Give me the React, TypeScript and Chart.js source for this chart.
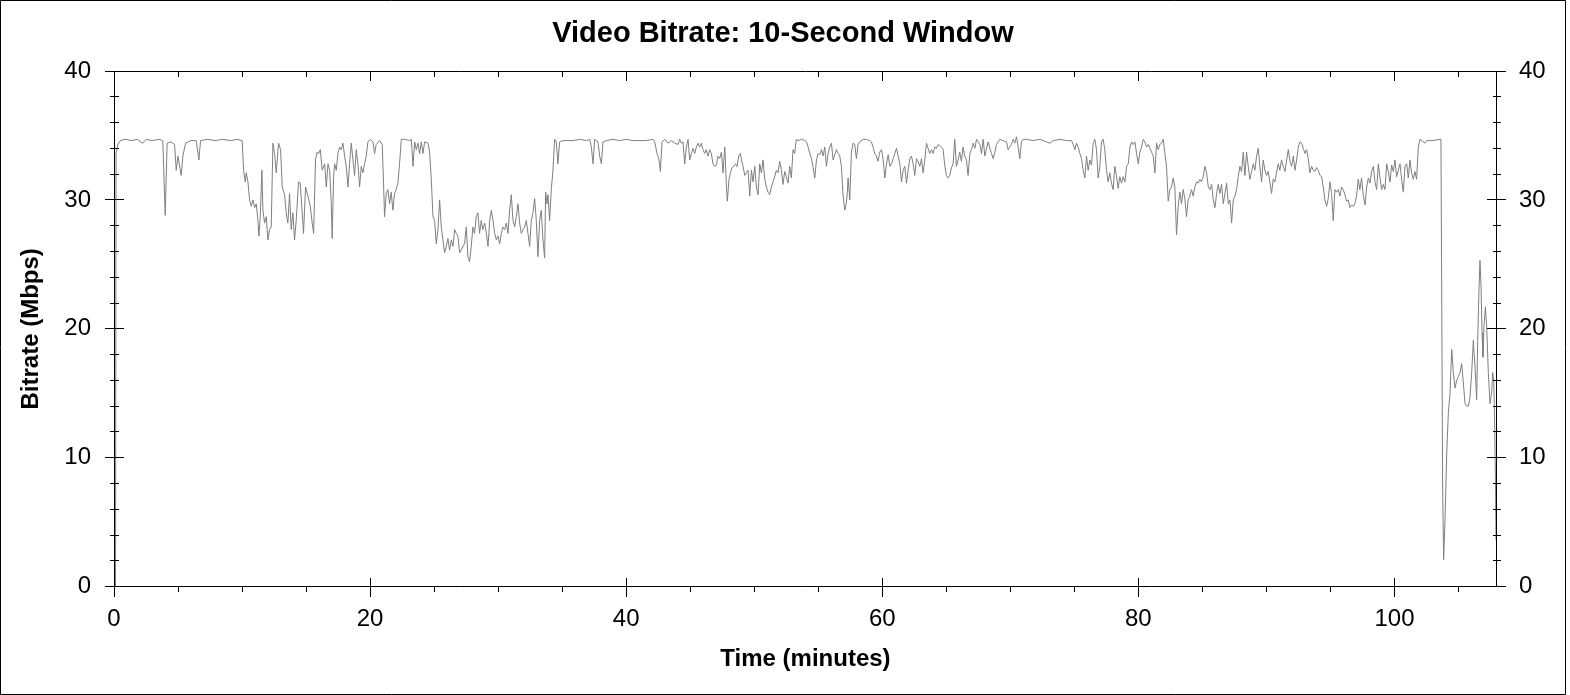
import React, { useEffect, useRef } from "react";
import { Chart, registerables } from "chart.js";

Chart.register(...registerables);

const chartTitle = "Video Bitrate: 10-Second Window";
const xAxisTitle = "Time (minutes)";
const yAxisTitle = "Bitrate (Mbps)";
const xRange = [0, 108];
const yRange = [0, 40];
const xMajorTicks = [0, 20, 40, 60, 80, 100];
const xMinorTicks = [5, 10, 15, 25, 30, 35, 45, 50, 55, 65, 70, 75, 85, 90, 95, 105];
const yMajorTicks = [0, 10, 20, 30, 40];
const yMinorTicks = [2, 4, 6, 8, 12, 14, 16, 18, 22, 24, 26, 28, 32, 34, 36, 38];

// [time (minutes), bitrate (Mbps)]
const bitrateSamples: [number, number][] = [
  [0.12, 0], [0.16, 33.6], [0.3, 34.3], [0.5, 34.6], [0.9, 34.7], [1.4, 34.6], [1.8, 34.7], [2.25, 34.4], [2.5, 34.7], [3.0, 34.6],
  [3.5, 34.7], [3.81, 34.6], [4.0, 28.8], [4.15, 34.4], [4.45, 34.5], [4.73, 34.3], [4.86, 32.3], [4.99, 33.4], [5.25, 31.9], [5.38, 33.4],
  [5.59, 34.4], [6.0, 34.6], [6.42, 34.6], [6.63, 33.1], [6.76, 34.6], [7.3, 34.7], [7.9, 34.6], [8.5, 34.7], [9.1, 34.6], [9.6, 34.7],
  [10.01, 34.6],
  [10.12, 32.3], [10.25, 31.4], [10.33, 32.1], [10.46, 31.4], [10.59, 30.0], [10.72, 29.5], [10.85, 30.0], [10.98, 29.4], [11.11, 29.7], [11.24, 28.4],
  [11.32, 27.2], [11.42, 28.7], [11.55, 32.3], [11.63, 29.2], [11.76, 28.2], [11.89, 28.7], [12.02, 26.9], [12.15, 27.7], [12.28, 27.9], [12.41, 34.4],
  [12.54, 33.6], [12.67, 32.1], [12.85, 34.4], [13.01, 33.9], [13.14, 31.0], [13.32, 30.4], [13.45, 29.0], [13.58, 28.2], [13.71, 30.5], [13.84, 27.7],
  [13.97, 29.0], [14.10, 26.9], [14.23, 28.4], [14.41, 31.4], [14.54, 31.3], [14.70, 29.0], [14.80, 27.4], [14.96, 31.0], [15.14, 30.3], [15.33, 29.5],
  [15.48, 28.2], [15.59, 27.4], [15.74, 33.1], [15.85, 33.7], [16.00, 33.6], [16.11, 33.9], [16.26, 32.3], [16.45, 32.8], [16.58, 31.0], [16.71, 32.8],
  [16.84, 32.3], [16.97, 29.7], [17.04, 27.0], [17.15, 31.8], [17.23, 32.8], [17.36, 32.3], [17.49, 33.6], [17.62, 34.1], [17.75, 33.9], [17.88, 34.4],
  [18.01, 33.4], [18.14, 32.6], [18.27, 31.0], [18.40, 32.8], [18.53, 34.4], [18.66, 33.1], [18.79, 31.9], [18.92, 33.9], [19.05, 32.8], [19.18, 31.0],
  [19.31, 32.6], [19.44, 32.1], [19.57, 32.8], [19.70, 33.4], [19.83, 34.5], [20.01, 34.7], [20.22, 34.5], [20.35, 33.6], [20.48, 34.3], [20.74, 34.6],
  [20.95, 34.3], [21.05, 31.3], [21.13, 28.7], [21.26, 30.5], [21.39, 30.8], [21.52, 29.7], [21.65, 30.6], [21.78, 29.2], [21.91, 30.5], [22.04, 30.8],
  [22.17, 31.3], [22.30, 32.8], [22.44, 34.7], [22.70, 34.7], [23.09, 34.6], [23.22, 34.7], [23.35, 32.6], [23.48, 34.5], [23.61, 33.9], [23.74, 34.4],
  [23.87, 33.6], [24.00, 34.5], [24.13, 33.6], [24.26, 34.5], [24.52, 34.4], [24.65, 33.7], [24.78, 31.6], [24.91, 28.7], [25.04, 28.4], [25.17, 26.6],
  [25.30, 27.7], [25.43, 30.0], [25.56, 27.9], [25.69, 26.9], [25.82, 25.9], [25.95, 26.4], [26.08, 27.0],
  [26.21, 26.1], [26.34, 26.9], [26.47, 26.4], [26.60, 27.7], [26.73, 27.4], [26.86, 27.2], [26.99, 25.9], [27.12, 26.1], [27.25, 26.4], [27.38, 26.6],
  [27.51, 27.9], [27.64, 25.6], [27.77, 25.2], [27.90, 26.4], [28.03, 27.9], [28.16, 27.4], [28.29, 28.7], [28.42, 29.0], [28.55, 27.4], [28.68, 28.4],
  [28.81, 27.7], [28.95, 28.2], [29.08, 27.4], [29.21, 26.4], [29.34, 28.4], [29.47, 29.2], [29.60, 28.4], [29.73, 27.4], [29.86, 26.9], [29.99, 27.2],
  [30.12, 26.6], [30.25, 27.4], [30.38, 27.9], [30.51, 27.7], [30.64, 28.2], [30.77, 27.4], [30.90, 29.2], [31.03, 30.4], [31.16, 28.4], [31.29, 27.9],
  [31.42, 28.7], [31.55, 29.7], [31.68, 28.2], [31.81, 27.4], [31.94, 27.7], [32.07, 27.9], [32.20, 28.4], [32.33, 27.4], [32.46, 26.4], [32.59, 28.4],
  [32.72, 29.0], [32.85, 30.1], [32.98, 28.4], [33.11, 25.6], [33.24, 28.4], [33.37, 29.2], [33.50, 26.9], [33.63, 25.5], [33.71, 30.6], [33.81, 29.7],
  [33.89, 30.4], [34.02, 28.4], [34.15, 30.8], [34.28, 32.3], [34.41, 34.7], [34.54, 34.5], [34.67, 32.8], [34.80, 34.5], [35.06, 34.6], [35.33, 34.6],
  [35.85, 34.6], [36.37, 34.7], [36.89, 34.6], [37.15, 34.7], [37.28, 34.1], [37.41, 32.8], [37.54, 34.7], [37.80, 34.5], [37.93, 33.4], [38.06, 32.8],
  [38.19, 34.5], [38.45, 34.6], [38.97, 34.7], [39.49, 34.6], [40.01, 34.7], [40.53, 34.6], [41.05, 34.6], [41.58, 34.6], [42.10, 34.7], [42.23, 34.5],
  [42.41, 33.6], [42.57, 33.1], [42.67, 32.2], [42.80, 34.5], [43.01, 34.7], [43.27, 34.4], [43.53, 34.6], [43.79, 34.4], [44.05, 34.3], [44.18, 34.7],
  [44.31, 34.4], [44.44, 34.5], [44.57, 32.8], [44.70, 34.1], [44.83, 34.7], [44.96, 33.1], [45.09, 33.6], [45.22, 34.0], [45.35, 33.6], [45.48, 34.1],
  [45.61, 34.4], [45.74, 34.1], [45.87, 34.4], [46.00, 33.9], [46.13, 33.6], [46.26, 33.9], [46.39, 33.4], [46.52, 33.9], [46.65, 33.6], [46.78, 32.8],
  [46.91, 32.6], [47.04, 32.7], [47.17, 33.4], [47.30, 33.2], [47.44, 33.7], [47.56, 32.1], [47.70, 34.1], [47.83, 31.0], [47.90, 29.9], [48.03, 31.6],
  [48.14, 32.1], [48.27, 32.5], [48.40, 32.6], [48.53, 32.8], [48.66, 32.6], [48.79, 33.4], [48.92, 33.6], [49.00, 33.1], [49.13, 32.6], [49.26, 31.9],
  [49.39, 32.1], [49.52, 32.3], [49.65, 30.3], [49.78, 32.3], [49.91, 31.4], [50.04, 32.6], [50.17, 31.0], [50.30, 30.4],
  [50.43, 32.8], [50.56, 32.1], [50.69, 33.1], [50.82, 31.6], [50.95, 31.0], [51.08, 30.6], [51.21, 30.4], [51.34, 31.0], [51.47, 31.4], [51.60, 31.8],
  [51.73, 32.3], [51.86, 32.1], [51.99, 33.0], [52.12, 32.3], [52.25, 31.2], [52.38, 32.2], [52.51, 31.8], [52.64, 31.3], [52.77, 32.6], [52.90, 31.7],
  [53.03, 33.9], [53.16, 33.6], [53.29, 34.7], [53.42, 34.6], [53.68, 34.7], [53.95, 34.6], [54.08, 34.5], [54.21, 34.1], [54.34, 33.6], [54.47, 33.2],
  [54.60, 32.5], [54.73, 31.7], [54.86, 33.1], [54.99, 33.6], [55.12, 33.5], [55.25, 33.9], [55.38, 33.4], [55.51, 34.1], [55.64, 32.6], [55.77, 33.6],
  [55.90, 34.1], [56.03, 34.4], [56.16, 33.1], [56.29, 33.5], [56.42, 33.9], [56.55, 33.6], [56.68, 33.4], [56.81, 32.6], [56.94, 30.3], [57.07, 29.2],
  [57.15, 29.5], [57.25, 30.3], [57.33, 31.7], [57.46, 30.0], [57.59, 33.7], [57.72, 34.4], [57.85, 34.3], [57.98, 33.2], [58.11, 34.3], [58.24, 34.5],
  [58.50, 34.7], [58.76, 34.7], [59.02, 34.6], [59.15, 34.5], [59.28, 34.1], [59.41, 33.6], [59.54, 33.4], [59.67, 33.0], [59.80, 33.7], [59.94, 33.9],
  [60.07, 33.1], [60.20, 31.7], [60.33, 32.8], [60.46, 33.5], [60.59, 32.6], [60.72, 32.8], [60.85, 33.2], [60.98, 33.6], [61.11, 34.0], [61.24, 33.4],
  [61.37, 32.8], [61.50, 31.4], [61.63, 32.3], [61.76, 32.6], [61.89, 31.3], [62.02, 32.3], [62.15, 33.2], [62.28, 33.4], [62.41, 32.8], [62.54, 31.9],
  [62.67, 33.2], [62.80, 33.0], [62.93, 32.6], [63.06, 33.2], [63.19, 32.1], [63.32, 33.1], [63.45, 34.4], [63.58, 34.0], [63.71, 33.6], [63.84, 33.9],
  [63.97, 33.6], [64.10, 34.1], [64.23, 34.0], [64.36, 34.3], [64.62, 34.1], [64.75, 33.9], [64.88, 32.7], [65.01, 31.9], [65.14, 31.7], [65.27, 31.9],
  [65.40, 32.5], [65.53, 32.8], [65.66, 34.7], [65.79, 32.6], [65.92, 33.1], [66.05, 33.7], [66.18, 33.0], [66.31, 34.1], [66.44, 33.4], [66.57, 33.1],
  [66.70, 31.9], [66.84, 33.6], [66.97, 33.9], [67.10, 34.4], [67.23, 34.0], [67.36, 34.7], [67.49, 34.5], [67.62, 34.3], [67.75, 33.6], [67.88, 34.7],
  [68.01, 33.4], [68.14, 34.0], [68.27, 34.5], [68.40, 34.0], [68.53, 33.6], [68.66, 33.2], [68.79, 33.7], [68.92, 34.3], [69.05, 34.5], [69.18, 34.7],
  [69.44, 34.6], [69.70, 34.5], [69.83, 33.9], [69.96, 34.1], [70.09, 34.3], [70.22, 34.7], [70.35, 34.4], [70.48, 34.9], [70.61, 34.1], [70.74, 33.2],
  [70.87, 34.5], [71.00, 34.7], [71.26, 34.7], [71.78, 34.6], [72.30, 34.7], [72.83, 34.5], [73.09, 34.4], [73.35, 34.6], [73.87, 34.7], [74.39, 34.6],
  [74.78, 34.6], [74.91, 34.3], [75.04, 33.9], [75.17, 34.4], [75.30, 34.1], [75.43, 33.6], [75.56, 33.2], [75.69, 32.3], [75.82, 31.7], [75.95, 33.4],
  [76.08, 32.3], [76.21, 33.1], [76.34, 32.7], [76.47, 34.4], [76.60, 34.7], [76.73, 33.9], [76.86, 31.7], [76.99, 32.6], [77.12, 34.5], [77.25, 34.7],
  [77.38, 33.9], [77.51, 32.3], [77.64, 31.4], [77.77, 32.1], [77.90, 31.3], [78.03, 30.8], [78.16, 32.6], [78.29, 31.9], [78.42, 30.9], [78.55, 31.8],
  [78.68, 31.3], [78.81, 31.8], [78.95, 31.4], [79.08, 32.6], [79.21, 32.8], [79.34, 34.1], [79.47, 34.5], [79.60, 34.3], [79.73, 34.5], [79.86, 33.6],
  [79.99, 32.8], [80.12, 33.7], [80.25, 34.1], [80.38, 34.7], [80.51, 34.5], [80.64, 34.1], [80.77, 34.3], [80.90, 34.0], [81.03, 33.7], [81.16, 33.4],
  [81.29, 32.1], [81.42, 34.4], [81.55, 33.9], [81.68, 34.3], [81.81, 34.4], [81.94, 34.7], [82.07, 33.6], [82.20, 32.6], [82.33, 29.9], [82.46, 30.8],
  [82.59, 31.0], [82.72, 31.7], [82.85, 31.0], [82.98, 27.3], [83.11, 29.5], [83.24, 30.6], [83.37, 29.7], [83.50, 30.8], [83.63, 30.1], [83.76, 28.7],
  [83.89, 30.0], [84.02, 30.3], [84.15, 30.8], [84.28, 30.3], [84.41, 31.0], [84.54, 31.4], [84.67, 31.3], [84.80, 31.6], [84.93, 31.4], [85.06, 31.8],
  [85.20, 32.6], [85.33, 32.1], [85.46, 31.0], [85.59, 30.8], [85.72, 31.2], [85.85, 30.0], [85.98, 29.4], [86.11, 30.5], [86.24, 31.2], [86.37, 30.5],
  [86.50, 31.2], [86.63, 29.7], [86.76, 30.5], [86.89, 31.3], [87.02, 29.7], [87.15, 30.0], [87.28, 28.2], [87.41, 30.0], [87.54, 30.3], [87.67, 30.8],
  [87.80, 31.8], [87.93, 32.6], [88.06, 32.2], [88.19, 33.7], [88.32, 31.9], [88.45, 33.7], [88.58, 32.6], [88.71, 31.6], [88.84, 32.2], [88.97, 32.8],
  [89.10, 32.3], [89.23, 33.4], [89.36, 34.0], [89.49, 32.6], [89.62, 31.4], [89.75, 33.1], [89.88, 32.3], [90.01, 31.9], [90.14, 32.2], [90.27, 31.4],
  [90.40, 30.5], [90.53, 31.6], [90.66, 31.4], [90.79, 32.1], [90.92, 32.8], [91.05, 32.3], [91.18, 33.1], [91.31, 32.6], [91.45, 32.2], [91.58, 33.1],
  [91.71, 33.9], [91.84, 33.0], [91.97, 32.6], [92.10, 33.4], [92.23, 32.3], [92.36, 33.1], [92.49, 34.1], [92.62, 34.5], [92.75, 34.4], [92.88, 34.0],
  [93.01, 33.6], [93.14, 33.9], [93.27, 33.2], [93.40, 32.1], [93.53, 32.6], [93.66, 32.3], [93.79, 32.2], [93.92, 32.5], [94.05, 32.3], [94.18, 31.9],
  [94.31, 31.8], [94.44, 31.0], [94.57, 30.0], [94.70, 29.5], [94.83, 30.1], [94.96, 31.4], [95.09, 30.5], [95.22, 28.4], [95.35, 30.8], [95.48, 30.6],
  [95.61, 30.8], [95.74, 30.3], [95.87, 31.0], [96.00, 30.8], [96.13, 30.4], [96.26, 29.9], [96.39, 30.0], [96.52, 29.4], [96.65, 29.6], [96.78, 29.5],
  [96.91, 29.7], [97.04, 30.3], [97.17, 31.6], [97.30, 30.8], [97.43, 31.7], [97.56, 30.4], [97.70, 29.6], [97.83, 31.0], [97.96, 31.7], [98.09, 31.3],
  [98.22, 32.2], [98.35, 32.6], [98.48, 31.4], [98.61, 30.8], [98.74, 32.8], [98.87, 31.7], [99.00, 30.8], [99.13, 31.2], [99.26, 30.8], [99.39, 32.8],
  [99.52, 32.2], [99.65, 31.4], [99.78, 32.7], [99.91, 32.2], [100.04, 33.1], [100.17, 31.8], [100.30, 32.3], [100.43, 32.8], [100.56, 31.6], [100.69, 30.6],
  [100.82, 32.6], [100.95, 32.8], [101.08, 31.7], [101.21, 33.1], [101.34, 32.1], [101.47, 31.6], [101.60, 32.2], [101.73, 31.6], [101.86, 34.1], [101.99, 34.7],
  [102.25, 34.5], [102.38, 34.4], [102.51, 34.6], [103.03, 34.6], [103.55, 34.7],
  [103.63, 34.7], [103.69, 22.8], [103.76, 8.0], [103.84, 2.1], [103.95, 5.2], [104.08, 10.3], [104.21, 13.5], [104.34, 15.0], [104.47, 18.4], [104.60, 16.6],
  [104.73, 15.4], [104.86, 16.0], [104.99, 16.3], [105.12, 16.6], [105.25, 17.3], [105.38, 15.8], [105.51, 14.2], [105.64, 14.0], [105.77, 14.0], [105.90, 14.7],
  [106.03, 16.6], [106.16, 19.1], [106.29, 17.1], [106.42, 14.5], [106.50, 19.1], [106.60, 23.0], [106.68, 25.3], [106.76, 23.3], [106.84, 19.7], [106.91, 17.8],
  [106.99, 20.2], [107.10, 21.7], [107.20, 20.2], [107.33, 16.6], [107.46, 14.2], [107.59, 15.0], [107.67, 16.6], [107.75, 16.0], [107.80, 14.2], [107.88, 8.8],
  [107.93, 3.6],
];

const FONT = "'Liberation Sans', Arial, Helvetica, sans-serif";

const framePlugin = {
  id: "frameAndTicks",
  beforeDraw(chart: any) {
    const { ctx, width, height } = chart;
    ctx.save();
    ctx.fillStyle = "#ffffff";
    ctx.fillRect(0, 0, width, height);
    ctx.restore();
  },
  afterDraw(chart: any) {
    const { ctx, chartArea } = chart;
    const xs = chart.scales.x;
    const ys = chart.scales.y;
    const snap = (p: number) => Math.round(p - 0.5) + 0.5;
    const L = snap(chartArea.left);
    const R = snap(chartArea.right);
    const T = snap(chartArea.top);
    const B = snap(chartArea.bottom);
    ctx.save();
    ctx.strokeStyle = "#000000";
    ctx.lineWidth = 1;
    ctx.beginPath();
    // outer picture frame
    ctx.rect(0.5, 0.5, chart.width - 5, chart.height - 1);
    // plot box
    ctx.moveTo(L, T - 0.5);
    ctx.lineTo(L, B + 0.5);
    ctx.moveTo(R, T - 0.5);
    ctx.lineTo(R, B + 0.5);
    ctx.moveTo(L - 0.5, T);
    ctx.lineTo(R + 0.5, T);
    ctx.moveTo(L - 0.5, B);
    ctx.lineTo(R + 0.5, B);
    // x ticks (bottom and top)
    xMajorTicks.forEach((v) => {
      const px = snap(xs.getPixelForValue(v));
      ctx.moveTo(px, B - 8.5);
      ctx.lineTo(px, B + 10.5);
      ctx.moveTo(px, T - 0.5);
      ctx.lineTo(px, T + 9.5);
    });
    xMinorTicks.forEach((v) => {
      const px = snap(xs.getPixelForValue(v));
      ctx.moveTo(px, B + 0.5);
      ctx.lineTo(px, B + 5.5);
      ctx.moveTo(px, T - 0.5);
      ctx.lineTo(px, T + 5.5);
    });
    // y ticks (left and right)
    yMajorTicks.forEach((v) => {
      const py = snap(ys.getPixelForValue(v));
      ctx.moveTo(L - 9.5, py);
      ctx.lineTo(L + 9.5, py);
      ctx.moveTo(R - 9.5, py);
      ctx.lineTo(R + 9.5, py);
    });
    yMinorTicks.forEach((v) => {
      const py = snap(ys.getPixelForValue(v));
      ctx.moveTo(L - 4.5, py);
      ctx.lineTo(L + 4.5, py);
      ctx.moveTo(R - 3.5, py);
      ctx.lineTo(R + 4.5, py);
    });
    ctx.stroke();
    ctx.restore();
  },
};

const tickFont = { family: FONT, size: 24, weight: "normal" as const };
const axisTitleFont = { family: FONT, size: 24, weight: "bold" as const };

export default function App() {
  const canvasRef = useRef<HTMLCanvasElement | null>(null);

  useEffect(() => {
    const canvas = canvasRef.current;
    if (!canvas) return;
    const chart = new Chart(canvas, {
      type: "line",
      data: {
        datasets: [
          {
            data: bitrateSamples.map(([x, y]) => ({ x, y })),
            borderColor: "#7f7f7f",
            borderWidth: 1,
            pointRadius: 0,
            pointHoverRadius: 0,
            fill: false,
            tension: 0,
            xAxisID: "x",
            yAxisID: "y",
          },
        ],
      },
      options: {
        responsive: false,
        animation: false,
        devicePixelRatio: 1,
        events: [],
        layout: { padding: { left: 0, right: 4, top: 0, bottom: 0 } },
        plugins: {
          legend: { display: false },
          tooltip: { enabled: false },
          title: {
            display: true,
            text: chartTitle,
            color: "#000000",
            font: { family: FONT, size: 29, weight: "bold" },
            padding: { top: 16.3, bottom: 19.9 },
          },
        },
        scales: {
          x: {
            type: "linear",
            position: "bottom",
            min: xRange[0],
            max: xRange[1],
            afterBuildTicks: (s: any) => {
              s.ticks = xMajorTicks.map((value) => ({ value }));
            },
            afterFit: (s: any) => {
              s.height = 108.4;
            },
            grid: { display: false, drawTicks: false, tickLength: 0 },
            border: { display: false },
            ticks: {
              color: "#000000",
              font: tickFont,
              padding: 18,
              maxRotation: 0,
              minRotation: 0,
              autoSkip: false,
            },
            title: {
              display: true,
              text: xAxisTitle,
              color: "#000000",
              font: axisTitleFont,
              padding: { top: 0, bottom: 21.6 },
            },
          },
          y: {
            type: "linear",
            position: "left",
            min: yRange[0],
            max: yRange[1],
            afterBuildTicks: (s: any) => {
              s.ticks = yMajorTicks.map((value) => ({ value }));
            },
            afterFit: (s: any) => {
              s.width = 114;
            },
            grid: { display: false, drawTicks: false, tickLength: 0 },
            border: { display: false },
            ticks: { color: "#000000", font: tickFont, padding: 23 },
            title: {
              display: true,
              text: yAxisTitle,
              color: "#000000",
              font: axisTitleFont,
              padding: { top: 17, bottom: 0 },
            },
          },
          y2: {
            type: "linear",
            position: "right",
            min: yRange[0],
            max: yRange[1],
            afterBuildTicks: (s: any) => {
              s.ticks = yMajorTicks.map((value) => ({ value }));
            },
            afterFit: (s: any) => {
              s.width = 69.1;
            },
            grid: { display: false, drawTicks: false, tickLength: 0 },
            border: { display: false },
            ticks: { color: "#000000", font: tickFont, padding: 22 },
          },
        },
      },
      plugins: [framePlugin],
    } as any);
    return () => chart.destroy();
  }, []);

  return (
    <div style={{ position: "absolute", left: 0, top: 0, width: 1570, height: 695, background: "#ffffff" }}>
      <canvas ref={canvasRef} width={1570} height={695} style={{ display: "block", width: 1570, height: 695 }} />
    </div>
  );
}
